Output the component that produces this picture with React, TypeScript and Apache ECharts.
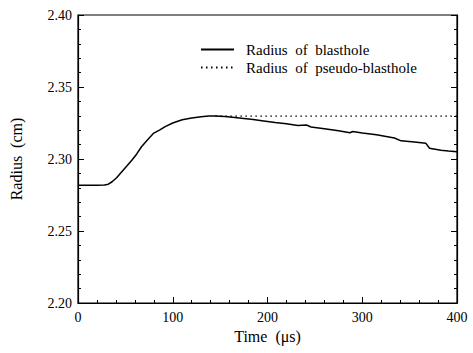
import React, { useEffect, useRef } from "react";
import * as echarts from "echarts";

const timeBlast = [0, 10, 20, 28, 32, 36, 41, 46, 52, 57, 62, 67, 73, 80, 86, 92, 100, 110, 120, 130, 138, 145, 155, 163, 175, 185, 194, 208, 220, 232, 241, 246, 260, 275, 287, 290, 300, 315, 334, 341, 355, 367, 371, 383, 391, 400];
const radiusBlast = [2.2818, 2.2818, 2.2818, 2.2819, 2.2825, 2.2842, 2.2872, 2.2910, 2.2955, 2.2993, 2.3035, 2.3085, 2.3130, 2.3180, 2.3200, 2.3225, 2.3250, 2.3272, 2.3285, 2.3294, 2.3298, 2.3299, 2.3295, 2.3290, 2.3282, 2.3274, 2.3266, 2.3253, 2.3244, 2.3233, 2.3236, 2.3222, 2.3210, 2.3196, 2.3182, 2.3191, 2.3180, 2.3168, 2.3146, 2.3126, 2.3118, 2.3110, 2.3075, 2.3060, 2.3055, 2.3051];
const timePseudo = [145, 200, 250, 300, 350, 400];
const radiusPseudo = [2.3298, 2.3298, 2.3298, 2.3298, 2.3298, 2.3298];
const seriesNames = ["Radius  of  blasthole", "Radius  of  pseudo-blasthole"];
const xTitle = "Time  (μs)";
const yTitle = "Radius  (cm)";

const FONT = "Liberation Serif";

export default function App() {
  const ref = useRef<HTMLDivElement>(null);
  useEffect(() => {
    if (!ref.current) return;
    const chart = echarts.init(ref.current, undefined, { renderer: "svg" });
    const axisCommon = {
      axisLine: { show: true, lineStyle: { color: "#000", width: 1.2 } },
      axisTick: { show: true, inside: true, length: 6, lineStyle: { color: "#000" } },
      minorTick: { show: true, splitNumber: 5, length: 3, lineStyle: { color: "#000" } },
      splitLine: { show: false },
      axisLabel: { color: "#000", fontFamily: FONT, fontSize: 14 },
    };
    chart.setOption({
      animation: false,
      backgroundColor: "#fff",
      textStyle: { fontFamily: FONT },
      grid: { left: 76, right: 16, top: 15, bottom: 50, show: true, borderColor: "#000", borderWidth: 1.2 },
      legend: {
        orient: "vertical",
        left: 195,
        top: 37,
        itemWidth: 33,
        itemHeight: 10,
        itemGap: 3,
        itemStyle: { opacity: 0 },
        textStyle: { fontFamily: FONT, fontSize: 15, color: "#000", padding: [0, 0, 0, 7] },
        data: seriesNames,
      },
      xAxis: {
        type: "value",
        min: 0,
        max: 400,
        interval: 100,
        name: xTitle,
        nameLocation: "middle",
        nameGap: 23,
        nameTextStyle: { fontFamily: FONT, fontSize: 16, color: "#000" },
        ...axisCommon,
        axisLabel: { ...axisCommon.axisLabel, margin: 7 },
      },
      yAxis: [
        {
          type: "value",
          min: 2.2,
          max: 2.4,
          interval: 0.05,
          name: yTitle,
          nameLocation: "middle",
          nameGap: 54,
          nameTextStyle: { fontFamily: FONT, fontSize: 16, color: "#000" },
          ...axisCommon,
          axisLabel: { ...axisCommon.axisLabel, margin: 6, formatter: (v: number) => v.toFixed(2) },
        },
        {
          type: "value",
          position: "right",
          min: 2.2,
          max: 2.4,
          interval: 0.05,
          ...axisCommon,
          axisLabel: { show: false },
        },
      ],
      series: [
        {
          name: seriesNames[0],
          type: "line",
          symbol: "none",
          data: timeBlast.map((t, i) => [t, radiusBlast[i]]),
          lineStyle: { color: "#000", width: 1.5, type: "solid" },
          itemStyle: { color: "#000" },
        },
        {
          name: seriesNames[1],
          type: "line",
          symbol: "none",
          data: timePseudo.map((t, i) => [t, radiusPseudo[i]]),
          lineStyle: { color: "#000", width: 1.2, type: [1.5, 3.5] },
          itemStyle: { color: "#000" },
        },
      ],
    });
    return () => chart.dispose();
  }, []);
  return <div ref={ref} style={{ position: "fixed", left: 0, top: 0, width: 473, height: 353 }} />;
}
